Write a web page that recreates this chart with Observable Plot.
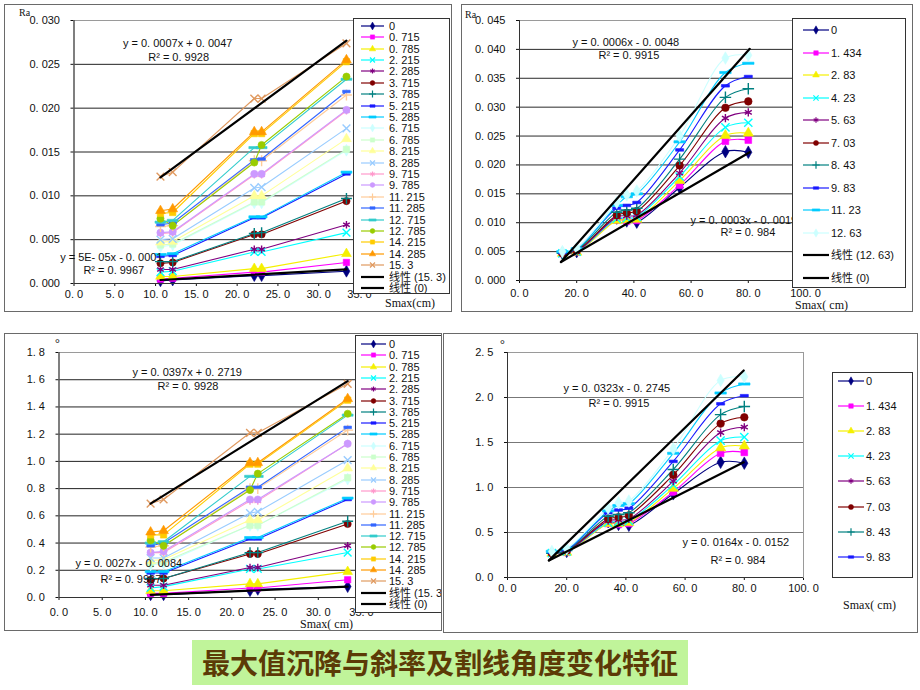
<!DOCTYPE html>
<html><head><meta charset="utf-8">
<script src="https://cdn.jsdelivr.net/npm/d3@7"></script>
<script src="https://cdn.jsdelivr.net/npm/@observablehq/plot@0.6"></script>
<style>
html,body{margin:0;padding:0;background:#fff;}
#root{position:relative;width:920px;height:690px;overflow:hidden;background:#fff;font-family:"Liberation Sans","Noto Sans CJK SC",sans-serif;color:#111;}
.panel{position:absolute;border:1px solid #6a6a6a;overflow:hidden;background:#fff;}
.legend{position:absolute;background:#fff;border:1px solid #333;overflow:hidden;box-sizing:border-box;}
.lrow{position:absolute;left:0;height:14px;width:260px;white-space:nowrap;line-height:14px;}
.lab{position:absolute;white-space:nowrap;color:#111;}
#banner{position:absolute;left:192px;top:640px;width:496px;height:45px;background:#c0f49a;color:#5c3a06;font:bold 28px "Noto Sans CJK SC",sans-serif;text-align:center;line-height:45px;}
</style></head><body><div id="root"></div>
<script>
// ---------- data ----------
const tlSeries = ["0","0. 715","0. 785","2. 215","2. 285","3. 715","3. 785","5. 215","5. 285","6. 715","6. 785","8. 215","8. 285","9. 715","9. 785","11. 215","11. 285","12. 715","12. 785","14. 215","14. 285","15. 3"];
const tlX = [10.6, 12.1, 22.1, 23.0, 33.4];
const tlRa = [
  [0.0003,0.0004,0.0009,0.0009,0.0014],
  [0.0005,0.0006,0.0013,0.0013,0.0024],
  [0.0008,0.0008,0.0017,0.0017,0.0034],
  [0.0013,0.0014,0.0036,0.0036,0.0058],
  [0.0016,0.0016,0.0039,0.0039,0.0067],
  [0.0023,0.0024,0.0056,0.0056,0.0094],
  [0.0025,0.0025,0.0057,0.0058,0.0097],
  [0.0031,0.0032,0.0075,0.0075,0.0125],
  [0.0033,0.0034,0.0076,0.0076,0.0127],
  [0.0042,0.0044,0.0092,0.0092,0.0152],
  [0.0044,0.0045,0.0093,0.0093,0.0153],
  [0.0047,0.0048,0.0100,0.0100,0.0165],
  [0.0050,0.0051,0.0109,0.0110,0.0177],
  [0.0057,0.0058,0.0124,0.0124,0.0197],
  [0.0058,0.0059,0.0125,0.0125,0.0198],
  [0.0065,0.0066,0.0140,0.0140,0.0215],
  [0.0067,0.0069,0.0141,0.0142,0.0219],
  [0.0070,0.0072,0.0155,0.0155,0.0233],
  [0.0074,0.0066,0.0138,0.0158,0.0236],
  [0.0080,0.0081,0.0171,0.0171,0.0253],
  [0.0083,0.0085,0.0173,0.0173,0.0255],
  [0.0122,0.0127,0.0211,0.0211,0.0274]
];
const tlDeg = [
  [0.02,0.02,0.05,0.06,0.08],
  [0.03,0.03,0.07,0.07,0.13],
  [0.05,0.05,0.10,0.10,0.19],
  [0.07,0.08,0.21,0.21,0.33],
  [0.09,0.09,0.22,0.22,0.38],
  [0.13,0.14,0.32,0.32,0.54],
  [0.14,0.14,0.33,0.33,0.56],
  [0.18,0.18,0.43,0.43,0.72],
  [0.19,0.19,0.44,0.44,0.73],
  [0.24,0.25,0.53,0.53,0.87],
  [0.25,0.26,0.53,0.53,0.88],
  [0.27,0.28,0.57,0.57,0.95],
  [0.29,0.29,0.62,0.63,1.01],
  [0.33,0.33,0.71,0.71,1.13],
  [0.33,0.34,0.72,0.72,1.13],
  [0.37,0.38,0.80,0.80,1.23],
  [0.38,0.40,0.81,0.81,1.25],
  [0.40,0.41,0.89,0.89,1.34],
  [0.42,0.38,0.79,0.91,1.35],
  [0.46,0.46,0.98,0.98,1.45],
  [0.48,0.49,0.99,0.99,1.46],
  [0.69,0.72,1.21,1.21,1.57]
];
const tlTrendRaHi = [[10.6,0.0121],[33.4,0.0277]];
const tlTrendRaLo = [[10.6,0.0004],[33.4,0.0016]];
const tlTrendDegHi = [[10.6,0.69],[33.4,1.59]];
const tlTrendDegLo = [[10.6,0.02],[33.4,0.08]];

const trSeries = ["0","1. 434","2. 83","4. 23","5. 63","7. 03","8. 43","9. 83","11. 23","12. 63"];
const trX = [15, 20, 34, 37.5, 41, 56, 72, 80];
const trRa = [
  [0.0047,0.0050,0.0108,0.0103,0.0101,0.0161,0.0223,0.0222],
  [0.0047,0.0049,0.0105,0.0103,0.0104,0.0165,0.0241,0.0243],
  [0.0047,0.0049,0.0104,0.0105,0.0106,0.0173,0.0251,0.0255],
  [0.0047,0.0050,0.0107,0.0108,0.0110,0.0180,0.0265,0.0273],
  [0.0047,0.0050,0.0110,0.0112,0.0113,0.0186,0.0281,0.0291],
  [0.0047,0.0052,0.0113,0.0117,0.0120,0.0199,0.0299,0.0310],
  [0.0047,0.0053,0.0118,0.0122,0.0125,0.0210,0.0317,0.0332],
  [0.0048,0.0055,0.0125,0.0130,0.0135,0.0226,0.0337,0.0353],
  [0.0050,0.0055,0.0130,0.0145,0.0150,0.0240,0.0360,0.0376],
  [0.0050,0.0056,0.0135,0.0148,0.0155,0.0250,0.0385,0.0390]
];
const trDeg = [
  [0.27,0.29,0.62,0.59,0.58,0.93,1.28,1.27],
  [0.27,0.28,0.60,0.59,0.60,0.95,1.38,1.39],
  [0.27,0.28,0.60,0.60,0.61,0.99,1.44,1.46],
  [0.27,0.29,0.61,0.62,0.63,1.03,1.52,1.56],
  [0.27,0.29,0.63,0.64,0.65,1.07,1.61,1.67],
  [0.27,0.30,0.65,0.67,0.69,1.14,1.71,1.78],
  [0.27,0.30,0.68,0.70,0.72,1.20,1.81,1.90],
  [0.28,0.31,0.72,0.75,0.77,1.29,1.93,2.02],
  [0.29,0.32,0.74,0.80,0.82,1.38,2.05,2.15],
  [0.29,0.32,0.77,0.83,0.85,1.43,2.19,2.23]
];
const trTrendRaHi = [[14.5,0.0032],[80.5,0.0401]];
const trTrendRaLo = [[14.5,0.0032],[80.5,0.0222]];
const trTrendDegHi = [[14,0.19],[79.8,2.30]];
const trTrendDegLo = [[14,0.19],[79.8,1.28]];

const xTicks35 = [0,5,10,15,20,25,30,35];
const xLabels35 = ["0. 0","5. 0","10. 0","15. 0","20. 0","25. 0","30. 0","35. 0"];
const xTicks100 = [0,20,40,60,80,100];
const xLabels100 = ["0. 0","20. 0","40. 0","60. 0","80. 0","100. 0"];
const yTicksRa30 = [0,0.005,0.010,0.015,0.020,0.025,0.030];
const yLabelsRa30 = ["0. 000","0. 005","0. 010","0. 015","0. 020","0. 025","0. 030"];
const yTicksRa45 = [0,0.005,0.010,0.015,0.020,0.025,0.030,0.035,0.040,0.045];
const yLabelsRa45 = ["0. 000","0. 005","0. 010","0. 015","0. 020","0. 025","0. 030","0. 035","0. 040","0. 045"];
const yTicksDeg18 = [0,0.2,0.4,0.6,0.8,1.0,1.2,1.4,1.6,1.8];
const yLabelsDeg18 = ["0. 0","0. 2","0. 4","0. 6","0. 8","1. 0","1. 2","1. 4","1. 6","1. 8"];
const yTicksDeg25 = [0,0.5,1.0,1.5,2.0,2.5];
const yLabelsDeg25 = ["0. 0","0. 5","1. 0","1. 5","2. 0","2. 5"];

const eqTL = ["y = 0. 0007x + 0. 0047","R² = 0. 9928","y = 5E- 05x - 0. 0001","R² = 0. 9967"];
const eqTR = ["y = 0. 0006x - 0. 0048","R² = 0. 9915","y = 0. 0003x - 0. 0019","R² = 0. 984"];
const eqBL = ["y = 0. 0397x + 0. 2719","R² = 0. 9928","y = 0. 0027x - 0. 0084","R² = 0. 9967"];
const eqBR = ["y = 0. 0323x - 0. 2745","R² = 0. 9915","y = 0. 0164x - 0. 0152","R² = 0. 984"];

const title = "最大值沉降与斜率及割线角度变化特征";

// ---------- styles ----------
const palette = ["#000080","#ff00ff","#f5f000","#00ffff","#800080","#800000","#008080","#1a1aff","#00ccff","#ccffff","#ccffcc","#ffff99","#99ccff","#ff99cc","#cc99ff","#ffcc99","#3366ff","#33cccc","#99cc00","#ffcc00","#ff9900","#e09a60"];
const dashS = {draw(c,size){const w=Math.sqrt(size)*0.6,h=1.3;c.moveTo(-w,-h);c.lineTo(w,-h);c.lineTo(w,h);c.lineTo(-w,h);c.closePath();}};
const dashL = {draw(c,size){const w=Math.sqrt(size)*0.85,h=1.1;c.moveTo(-w,-h);c.lineTo(w,-h);c.lineTo(w,h);c.lineTo(-w,h);c.closePath();}};
const D=d3.symbolDiamond,S=d3.symbolSquare,T=d3.symbolTriangle,X=d3.symbolTimes,A=d3.symbolAsterisk,C=d3.symbolCircle,P=d3.symbolPlus;
const strokeOnly = new Set([X,A,P]);
const symbols = [D,S,T,X,A,C,P,dashS,dashL,D,S,T,X,A,C,P,dashS,dashL,C,S,T,X];

const root = document.getElementById("root");

function addLegend(parent, o){
  const lg = document.createElement("div"); lg.className="legend";
  Object.assign(lg.style,{left:o.left+"px",top:o.top+"px",width:o.width+"px",height:o.height+"px"});
  o.items.forEach((it,i)=>{
    const row = document.createElement("div"); row.className="lrow";
    row.style.top = (o.first + i*o.step - 7) + "px";
    const svg = d3.create("svg").attr("width",o.sx1+4).attr("height",14)
      .style("position","absolute").style("left","0px").style("top","0px");
    svg.append("line").attr("x1",o.sx0).attr("x2",o.sx1).attr("y1",7).attr("y2",7)
      .attr("stroke",it.color).attr("stroke-width",it.trend?2.2:1.2);
    if(it.sym){
      const so = strokeOnly.has(it.sym);
      svg.append("path").attr("d",d3.symbol(it.sym,o.size)())
        .attr("transform",`translate(${(o.sx0+o.sx1)/2},7)`)
        .attr("fill",so?"none":it.color).attr("stroke",it.color).attr("stroke-width",so?1.2:0.5);
    }
    row.appendChild(svg.node());
    const sp = document.createElement("span");
    sp.textContent = it.label;
    Object.assign(sp.style,{position:"absolute",left:o.lx+"px",top:"0px",fontSize:o.font+"px",color:"#111"});
    row.appendChild(sp);
    lg.appendChild(row);
  });
  parent.appendChild(lg);
}

function addLabel(parent, text, left, top, css){
  const s = document.createElement("div"); s.className="lab"; s.textContent=text;
  Object.assign(s.style,{left:left+"px",top:top+"px"},css||{});
  parent.appendChild(s);
}

function makePanel(cfg){
  const div = document.createElement("div"); div.className="panel";
  Object.assign(div.style,{left:cfg.box[0]+"px",top:cfg.box[1]+"px",width:cfg.box[2]+"px",height:cfg.box[3]+"px"});
  root.appendChild(div);
  const marks = [];
  const grid = cfg.yTicks.slice(1, -1);
  marks.push(Plot.ruleY(grid,{stroke:cfg.gridColor,strokeWidth:1}));
  marks.push(Plot.frame({stroke:"#9a9a9a"}));
  cfg.series.forEach((name,i)=>{
    const rows = cfg.xs.map((x,j)=>({x, y:cfg.values[i][j]}));
    const col = palette[i];
    marks.push(Plot.line(rows,{x:"x",y:"y",stroke:col,strokeWidth:1.1,curve:cfg.curve}));
  });
  cfg.series.forEach((name,i)=>{
    const rows = cfg.xs.map((x,j)=>({x, y:cfg.values[i][j]}));
    const col = palette[i], s = symbols[i], so = strokeOnly.has(s);
    marks.push(Plot.dot(rows,{x:"x",y:"y",symbol:s,r:cfg.r,fill:so?"none":col,stroke:col,strokeWidth:so?1.4:0.6}));
  });
  cfg.trends.forEach(t=>marks.push(Plot.line(t,{x:d=>d[0],y:d=>d[1],stroke:"#000",strokeWidth:2.2})));
  marks.push(Plot.ruleY([0],{stroke:"#333"}));
  marks.push(Plot.ruleX([0],{stroke:"#333"}));
  marks.push(Plot.text(cfg.notes,{x:"x",y:"y",text:"t",textAnchor:"start",fontSize:11,fill:"#111"}));
  const svg = Plot.plot({
    width:cfg.box[2], height:cfg.box[3],
    marginLeft:cfg.m[0], marginRight:cfg.m[1], marginTop:cfg.m[2], marginBottom:cfg.m[3],
    style:{fontFamily:"Liberation Sans, Noto Sans CJK SC, sans-serif",fontSize:"11px",color:"#111",background:"transparent",overflow:"visible"},
    x:{domain:cfg.xDomain,ticks:cfg.xTicks,tickFormat:d=>cfg.xLabels[cfg.xTicks.indexOf(d)],tickSize:3,tickPadding:cfg.xPad,label:null},
    y:{domain:cfg.yDomain,ticks:cfg.yTicks,tickFormat:d=>cfg.yLabels[cfg.yTicks.indexOf(d)],tickSize:3,tickPadding:11,label:null},
    marks
  });
  svg.style.position="absolute"; svg.style.left="0px"; svg.style.top="0px";
  div.appendChild(svg);
  return div;
}

function legendItems(names, trendLabels, n){
  const items = names.slice(0,n).map((nm,i)=>({label:nm,color:palette[i],sym:symbols[i]}));
  trendLabels.forEach(l=>items.push({label:l,color:"#000",trend:true}));
  return items;
}

// ---------- panel 1: top-left ----------
const p1 = makePanel({
  box:[4,4,446,306], m:[68.5,92,15,28],
  xDomain:[0,35], xTicks:xTicks35, xLabels:xLabels35, xPad:4,
  yDomain:[0,0.030], yTicks:yTicksRa30, yLabels:yLabelsRa30,
  gridColor:"#222", series:tlSeries, xs:tlX, values:tlRa, r:3.6, curve:"linear",
  trends:[tlTrendRaHi, tlTrendRaLo],
  notes:[{x:6,y:0.0274,t:eqTL[0]},{x:9.1,y:0.0258,t:eqTL[1]},{x:-1.7,y:0.0030,t:eqTL[2]},{x:1.15,y:0.00148,t:eqTL[3]}]
});
addLegend(p1,{left:348,top:13,width:97,height:276,first:6.7,step:11.4,sx0:7,sx1:30,lx:35,font:11,size:18,
  items:legendItems(tlSeries,["线性 (15. 3)","线性 (0)"],22)});
addLabel(p1,"Ra",14,2,{font:"10px 'Liberation Serif',serif"});
addLabel(p1,"Smax(cm)",380,291,{font:"12px 'Liberation Serif',serif"});

// ---------- panel 2: top-right ----------
const p2 = makePanel({
  box:[461,4,450,306], m:[57,107,15,31],
  xDomain:[0,100], xTicks:xTicks100, xLabels:xLabels100, xPad:6,
  yDomain:[0,0.045], yTicks:yTicksRa45, yLabels:yLabelsRa45,
  gridColor:"#2a2a2a", series:trSeries, xs:trX, values:trRa, r:3.8, curve:"catmull-rom",
  trends:[trTrendRaHi, trTrendRaLo],
  notes:[{x:18.5,y:0.0412,t:eqTR[0]},{x:27.6,y:0.0389,t:eqTR[1]},{x:59.8,y:0.0104,t:eqTR[2]},{x:70.3,y:0.0083,t:eqTR[3]}]
});
addLegend(p2,{left:330,top:13,width:114,height:270,first:11.25,step:22.5,sx0:10,sx1:36,lx:38,font:11,size:20,
  items:legendItems(trSeries,["线性 (12. 63)","线性 (0)"],10)});
addLabel(p2,"Ra",3,4,{font:"10px 'Liberation Serif',serif"});
addLabel(p2,"Smax( cm)",333,293,{font:"12px 'Liberation Serif',serif"});

// ---------- panel 3: bottom-left ----------
const p3 = makePanel({
  box:[4,333,436,296], m:[53.5,80,18,33],
  xDomain:[0,35], xTicks:xTicks35, xLabels:xLabels35, xPad:8,
  yDomain:[0,1.8], yTicks:yTicksDeg18, yLabels:yLabelsDeg18,
  gridColor:"#222", series:tlSeries, xs:tlX, values:tlDeg, r:3.6, curve:"linear",
  trends:[tlTrendDegHi, tlTrendDegLo],
  notes:[{x:8.5,y:1.653,t:eqBL[0]},{x:11.4,y:1.55,t:eqBL[1]},{x:1.9,y:0.25,t:eqBL[2]},{x:4.8,y:0.132,t:eqBL[3]}]
});
addLegend(p3,{left:350,top:1,width:100,height:278,first:8,step:11.3,sx0:5,sx1:30,lx:33,font:11,size:18,
  items:legendItems(tlSeries,["线性 (15. 3)","线性 (0)"],22)});
addLabel(p3,"°",50,2,{font:"12px 'Liberation Serif',serif"});
addLabel(p3,"Smax( cm)",295,283,{font:"12px 'Liberation Serif',serif"});

// ---------- panel 4: bottom-right ----------
const p4 = makePanel({
  box:[443,333,473,298], m:[63,114,18,55],
  xDomain:[0,100], xTicks:xTicks100, xLabels:xLabels100, xPad:4,
  yDomain:[0,2.5], yTicks:yTicksDeg25, yLabels:yLabelsDeg25,
  gridColor:"#777", series:trSeries, xs:trX, values:trDeg, r:3.8, curve:"catmull-rom",
  trends:[trTrendDegHi, trTrendDegLo],
  notes:[{x:18.9,y:2.1,t:eqBR[0]},{x:27.4,y:1.93,t:eqBR[1]},{x:59.1,y:0.39,t:eqBR[2]},{x:68.6,y:0.19,t:eqBR[3]}]
});
addLegend(p4,{left:388,top:38,width:81,height:206,first:7.5,step:25.2,sx0:5,sx1:31,lx:33,font:11,size:20,
  items:legendItems(trSeries,[],8)});
addLabel(p4,"°",56,3,{font:"12px 'Liberation Serif',serif"});
addLabel(p4,"Smax( cm)",399,264,{font:"12px 'Liberation Serif',serif"});

// ---------- banner ----------
const b = document.createElement("div"); b.id="banner"; b.textContent = title; root.appendChild(b);
</script></body></html>
